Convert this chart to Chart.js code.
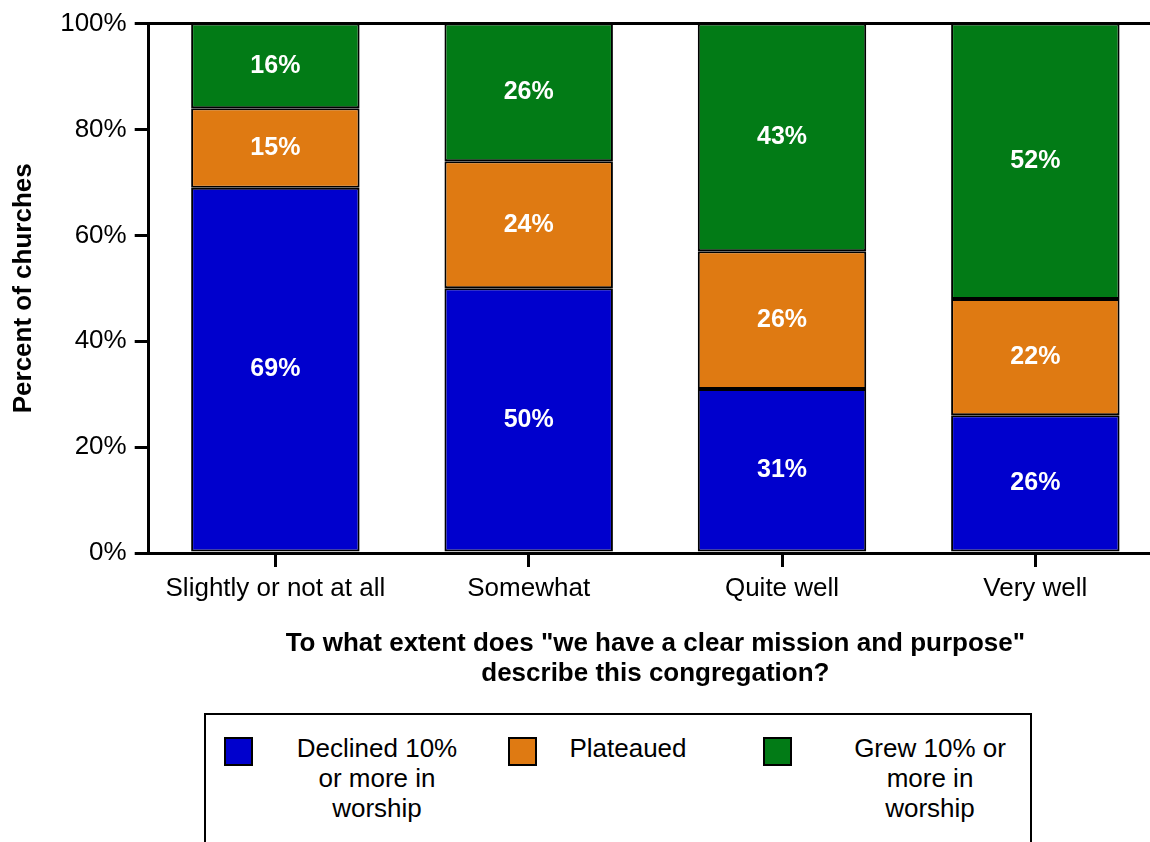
<!DOCTYPE html>
<html>
<head>
<meta charset="utf-8">
<script src="https://cdn.jsdelivr.net/npm/chart.js@4"></script>
<style>
    html, body { margin: 0; padding: 0; background: #fff; overflow: hidden; }
    body { width: 1150px; height: 842px; position: relative; font-family: "Liberation Sans", Arial, sans-serif; }
    #chartBox { position: absolute; left: 0; top: 0; width: 1162px; height: 700px; }
    .legend-box {
        position: absolute; left: 204px; top: 713px; width: 828px; height: 200px;
        border: 2px solid #000; box-sizing: border-box;
    }
    .swatch { position: absolute; width: 25px; height: 25px; border: 2px solid #000; }
    .legend-text { position: absolute; text-align: center; font-size: 26px; line-height: 30px; color: #000; }
</style>
</head>
<body>
<div id="chartBox"><canvas id="missionChart"></canvas></div>
<div class="legend-box" id="legend"></div>
<script>
// Data
const categories = ['Slightly or not at all', 'Somewhat', 'Quite well', 'Very well'];
const declined = [69, 50, 31, 26];
const plateaued = [15, 24, 26, 22];
const grew = [16, 26, 43, 52];
const seriesNames = [['Declined 10%', 'or more in', 'worship'], ['Plateaued'], ['Grew 10% or', 'more in', 'worship']];
const yTicks = [0, 20, 40, 60, 80, 100];

const COLORS = ['#0000CD', '#DF7A12', '#027B16'];
const FONT = '"Liberation Sans", Arial, sans-serif';

// Draw white percent labels in the middle of every segment
const segmentLabels = {
    id: 'segmentLabels',
    afterDatasetsDraw(chart) {
        const ctx = chart.ctx;
        ctx.save();
        ctx.fillStyle = '#fff';
        ctx.font = 'bold 25px ' + FONT;
        ctx.textAlign = 'center';
        ctx.textBaseline = 'middle';
        chart.data.datasets.forEach((ds, i) => {
            chart.getDatasetMeta(i).data.forEach((bar, j) => {
                const p = bar.getCenterPoint();
                ctx.fillText(ds.data[j] + '%', p.x, p.y);
            });
        });
        ctx.restore();
    }
};

const ctx = document.getElementById('missionChart').getContext('2d');
new Chart(ctx, {
    type: 'bar',
    data: {
        labels: categories,
        datasets: [declined, plateaued, grew].map((vals, i) => ({
            label: seriesNames[i].join(' '),
            data: vals,
            backgroundColor: COLORS[i],
            borderColor: '#000',
            borderWidth: 2,
            borderSkipped: false,
            categoryPercentage: 1,
            barPercentage: 0.665
        }))
    },
    options: {
        responsive: true,
        maintainAspectRatio: false,
        animation: false,
        layout: { padding: { top: 6, left: 8, right: 0, bottom: 11 } },
        plugins: {
            legend: { display: false },
            tooltip: { enabled: false }
        },
        scales: {
            x: {
                stacked: true,
                grid: {
                    offset: false,
                    drawOnChartArea: false,
                    tickLength: 14,
                    color: '#000',
                    lineWidth: 3
                },
                border: { color: '#000', width: 3 },
                ticks: { color: '#000', font: { family: FONT, size: 26 }, padding: 6 },
                title: {
                    display: true,
                    text: ['To what extent does "we have a clear mission and purpose"', 'describe this congregation?'],
                    color: '#000',
                    font: { family: FONT, size: 26, weight: 'bold', lineHeight: 1.15 },
                    padding: { top: 19, bottom: 0 }
                }
            },
            y: {
                stacked: true,
                min: 0,
                max: 100,
                afterBuildTicks: axis => { axis.ticks = yTicks.map(v => ({ value: v })); },
                grid: {
                    tickLength: 14,
                    lineWidth: 3,
                    color: c => (c.tick && c.tick.value === 100 ? '#000' : 'rgba(0,0,0,0)'),
                    tickColor: '#000'
                },
                border: { color: '#000', width: 3 },
                ticks: {
                    color: '#000',
                    font: { family: FONT, size: 26 },
                    padding: 8,
                    callback: v => v + '%'
                },
                title: {
                    display: true,
                    text: 'Percent of churches',
                    color: '#000',
                    font: { family: FONT, size: 26, weight: 'bold' },
                    padding: { top: 0, bottom: 13 }
                }
            }
        }
    },
    plugins: [segmentLabels]
});

// Legend built from the series names
const legendPos = [
    { sw: 18, textLeft: 66, textWidth: 210 },
    { sw: 302, textLeft: 337, textWidth: 170 },
    { sw: 557, textLeft: 619, textWidth: 210 }
];
const legend = document.getElementById('legend');
seriesNames.forEach((lines, i) => {
    const sw = document.createElement('div');
    sw.className = 'swatch';
    sw.style.left = legendPos[i].sw + 'px';
    sw.style.top = '22px';
    sw.style.background = COLORS[i];
    legend.appendChild(sw);
    const t = document.createElement('div');
    t.className = 'legend-text';
    t.style.left = legendPos[i].textLeft + 'px';
    t.style.top = '18px';
    t.style.width = legendPos[i].textWidth + 'px';
    t.innerHTML = lines.join('<br>');
    legend.appendChild(t);
});
</script>
</body>
</html>
